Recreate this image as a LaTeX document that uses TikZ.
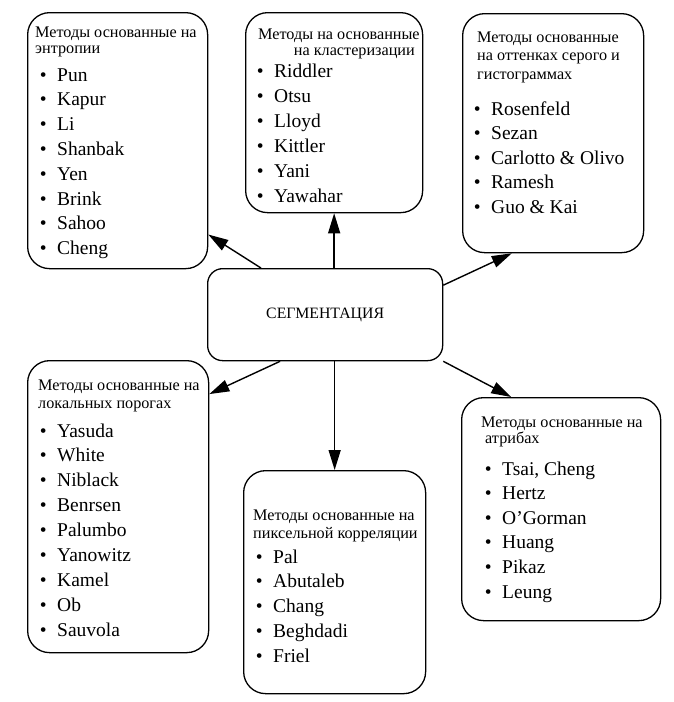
\documentclass[tikz,border=0pt]{standalone}
\usepackage{fontspec}
\setmainfont{Liberation Serif}
\usetikzlibrary{arrows.meta}

\begin{document}
\begin{tikzpicture}[x=1pt, y=-1pt,
    method/.style={draw, line width=1.3pt, rounded corners=22pt, anchor=north west, inner sep=0pt},
    head/.style={anchor=base west, inner sep=0pt, font=\fontsize{16.2}{18}\selectfont},
    item/.style={anchor=base west, inner sep=0pt, font=\fontsize{19.5}{24}\selectfont,
      execute at begin node={\llap{•\hspace{10.6pt}}}},
    link/.style={-{Triangle[length=20pt, width=12pt]}, line width=1.4pt}]
  \useasboundingbox (0,0) rectangle (673,702);
  % boxes
  \node[method, minimum width=180pt, minimum height=256pt] (entropy) at (27,12) {};
  \node[method, minimum width=177pt, minimum height=200pt] (cluster) at (245,12) {};
  \node[method, minimum width=181pt, minimum height=239pt] (gray) at (462,13) {};
  \node[method, minimum width=181pt, minimum height=292pt] (local) at (27,360) {};
  \node[method, minimum width=182pt, minimum height=223pt] (pixel) at (243,470) {};
  \node[method, minimum width=199pt, minimum height=223pt] (attr) at (461,397) {};
  \node[method, rounded corners=15pt, minimum width=235pt, minimum height=92pt,
    font=\fontsize{15.8}{18}\selectfont] (seg) at (207,268) {СЕГМЕНТАЦИЯ};
  % headings
  \node[head] (entropyh1) at (35,37) {Методы основанные на};
  \node[head] (entropyh2) at (35,53) {энтропии};
  \node[head] (clusterh1) at (258,39) {Методы на основанные};
  \node[head, anchor=base east] (clusterh2) at (415,55) {на кластеризации};
  \node[head] (grayh1) at (477,42) {Методы основанные};
  \node[head] (grayh2) at (477,60) {на оттенках серого и};
  \node[head] (grayh3) at (477,79) {гистограммах};
  \node[head] (localh1) at (38,390) {Методы основанные на};
  \node[head] (localh2) at (38,408) {локальных порогах};
  \node[head] (pixelh1) at (253,520) {Методы основанные на};
  \node[head] (pixelh2) at (253,538) {пиксельной корреляции};
  \node[head] (attrh1) at (481,427) {Методы основанные на};
  \node[head] (attrh2) at (485,443) {атрибах};
  % lists
  \foreach \m [count=\i from 0] in {Pun, Kapur, Li, Shanbak, Yen, Brink, Sahoo, Cheng}
    \node[item] (entropy\i) at (57,81+24.8*\i) {\m};
  \foreach \m [count=\i from 0] in {Riddler, Otsu, Lloyd, Kittler, Yani, Yawahar}
    \node[item] (cluster\i) at (274,77+25*\i) {\m};
  \foreach \m [count=\i from 0] in {Rosenfeld, Sezan, Carlotto \& Olivo, Ramesh, Guo \& Kai}
    \node[item] (gray\i) at (491,115+24.5*\i) {\m};
  \foreach \m [count=\i from 0] in {Yasuda, White, Niblack, Benrsen, Palumbo, Yanowitz, Kamel, Ob, Sauvola}
    \node[item] (local\i) at (57,437+24.9*\i) {\m};
  \foreach \m [count=\i from 0] in {Pal, Abutaleb, Chang, Beghdadi, Friel}
    \node[item] (pixel\i) at (273,563+24.75*\i) {\m};
  \foreach \m [count=\i from 0] in {{Tsai, Cheng}, Hertz, O’Gorman, Huang, Pikaz, Leung}
    \node[item] (attr\i) at (502,475+24.6*\i) {\m};
  % arrows
  \draw[link] (seg.144) -- (entropy.-46);
  \draw[link] (seg.north -| cluster.south) -- (cluster.south);
  \draw[link] (seg.14) -- (gray.251);
  \draw[link] (seg.226) -- (local.51);
  \draw[link] (seg.south east) -- (attr.114);
  \draw[link] (seg.south -| pixel.north) -- (pixel.north);
\end{tikzpicture}
\end{document}
